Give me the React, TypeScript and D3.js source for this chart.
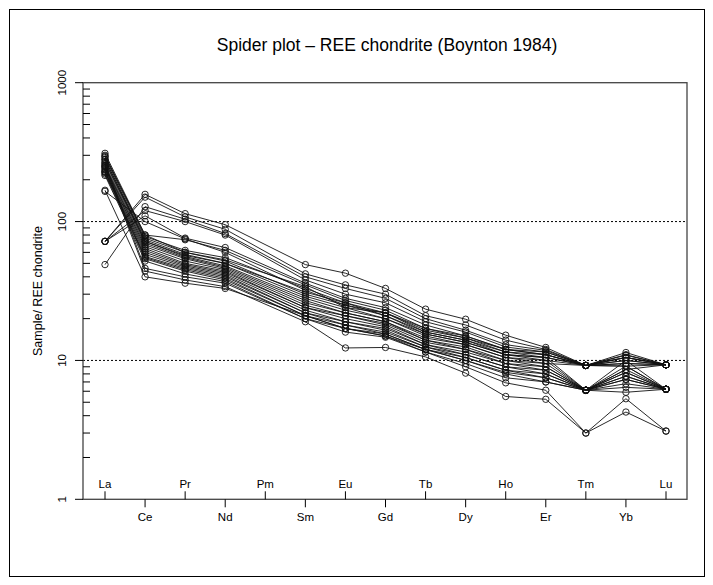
import React from "react";
import * as d3 from "d3";

const elements = ["La", "Ce", "Pr", "Nd", "Pm", "Sm", "Eu", "Gd", "Tb", "Dy", "Ho", "Er", "Tm", "Yb", "Lu"];
const yTicks = [1, 10, 100, 1000];
const gridValues = [10, 100];

// each sample: La, Ce, Pr, Nd, Pm(null), Sm, Eu, Gd, Tb, Dy, Ho, Er, Tm, Yb, Lu
const s1 = [72, 157, 114, 95, null, 49, 42.5, 33, 23.4, 19.8, 15.2, 12.4, 9.2, 11.4, 9.3];
const s2 = [72, 150, 108, 88, null, 42, 35, 30, 21, 18, 14, 12, 9.2, 10.9, 9.3];
const s3 = [49, 128, 104, 82, null, 40, 33, 28, 20, 16.5, 13, 11.8, 9.2, 10.5, 9.3];
const s4 = [72, 120, 100, 80, null, 38, 30, 26, 19, 16, 12.5, 11.5, 9.2, 10, 9.3];
const s5 = [72, 110, 76, 65, null, 36, 28, 24, 18, 15, 12, 11, 9.2, 10, 6.2];
const s6 = [310, 80, 74, 62, null, 35, 27, 23, 17, 15, 12, 11, 9.2, 9.5, 9.3];
const s7 = [300, 78, 62, 55, null, 33, 26, 22, 16.5, 14.5, 11.5, 10.5, 9.2, 9.1, 6.2];
const s8 = [290, 76, 60, 52, null, 30, 25, 21, 16, 14, 11, 10.5, 9.2, 10.5, 9.3];
const s9 = [280, 74, 58, 50, null, 29, 24, 20, 15.5, 13.5, 11, 10, 9.2, 9.1, 9.3];
const s10 = [270, 72, 56, 48, null, 28, 23, 20, 15, 13, 10.5, 10, 6.1, 8.6, 6.2];
const s11 = [265, 70, 55, 47, null, 27, 22, 19, 14.5, 13, 10.5, 9.5, 9.2, 11, 9.3];
const s12 = [255, 68, 54, 46, null, 26, 22, 19, 14, 12.5, 10, 9.5, 6.1, 8.2, 6.2];
const s13 = [250, 66, 52, 45, null, 25, 21, 18.5, 14, 12, 10, 9, 6.1, 9.1, 6.2];
const s14 = [245, 64, 50, 44, null, 24, 21, 18, 13.5, 12, 9.5, 9, 6.1, 8.6, 9.3];
const s15 = [240, 62, 49, 43, null, 24, 20, 17.5, 13, 11.5, 9.5, 8.5, 6.1, 7.7, 6.2];
const s16 = [235, 60, 48, 42, null, 23, 19, 17, 13, 11, 9, 8.5, 6.1, 7.3, 6.2];
const s17 = [230, 58, 47, 41, null, 22, 19, 16.5, 12.5, 11, 9, 8, 6.1, 10, 9.3];
const s18 = [228, 56, 46, 40, null, 22, 18, 16, 12.5, 10.5, 8.5, 8, 6.1, 6.8, 6.2];
const s19 = [225, 55, 45, 39, null, 21, 18, 15.5, 12, 10, 8.2, 7.5, 6.1, 7.7, 6.2];
const s20 = [220, 54, 44, 38, null, 21, 17, 15, 12, 10, 8, 7, 6.1, 6.4, 6.2];
const s21 = [215, 52, 42, 37, null, 20, 17, 15, 11.5, 9.5, 7.5, 7, 6.1, 5.9, 6.2];
const s22 = [260, 46, 40, 36, null, 20, 16, 14.7, 11.5, 9, 6.9, 6.1, 3.0, 5.3, 3.1];
const s23 = [250, 44, 38, 34, null, 19, 12.3, 12.4, 10.6, 8.1, 5.5, 5.25, 3.0, 4.25, 3.1];
const s24 = [168, 40, 36, 33, null, 21, 17, 15.5, 12, 10.5, 8.5, 7.5, 6.1, 8.2, 6.2];
const s25 = [165, 100, 75, 60, null, 32, 25, 22, 16, 14, 11.5, 11, 9.2, 9.5, 9.3];
const s26 = [280, 72, 57, 50, null, 31, 26, 21, 15.5, 13.5, 11, 10.5, 6.1, 7.3, 6.2];
const s27 = [295, 80, 60, 53, null, 34, 24, 22, 17, 14.5, 12, 11.5, 9.2, 10.5, 9.3];

const samples = [s1, s2, s3, s4, s5, s6, s7, s8, s9, s10, s11, s12, s13, s14, s15, s16, s17, s18, s19, s20, s21, s22, s23, s24, s25, s26, s27];

const FONT = "'Liberation Sans', Arial, sans-serif";

export default function App() {
  const left = 83, right = 687, top = 82.7, bottom = 499.3;
  const x = d3.scaleLinear().domain([0, 14]).range([105, 666]);
  const y = d3.scaleLog().domain([1, 1000]).range([bottom, top]);

  const line = d3
    .line<[number, number]>()
    .x((d) => x(d[0]))
    .y((d) => y(d[1]));

  const minorTicks: number[] = [];
  for (const dec of [1, 10, 100]) for (let k = 2; k <= 9; k++) minorTicks.push(dec * k);

  return (
    <svg
      width={713}
      height={585}
      style={{ position: "absolute", left: 0, top: 0, background: "#fff" }}
      fontFamily={FONT}
    >
      <rect x={0} y={0} width={713} height={585} fill="#fff" />
      <rect x={9.5} y={9.5} width={695} height={567} fill="none" stroke="#000" strokeWidth={1} />
      <text x={(left + right) / 2 + 2} y={51} textAnchor="middle" fontSize={17.5} fill="#000">
        Spider plot – REE chondrite (Boynton 1984)
      </text>
      <text
        transform={`translate(42,${(top + bottom) / 2}) rotate(-90)`}
        textAnchor="middle"
        fontSize={12.5}
        fill="#000"
      >
        Sample/ REE chondrite
      </text>

      {gridValues.map((v) => (
        <line key={v} x1={left} x2={right} y1={y(v)} y2={y(v)} stroke="#000" strokeDasharray="2,2" strokeWidth={1} />
      ))}

      <rect x={left} y={top} width={right - left} height={bottom - top} fill="none" stroke="#444" strokeWidth={1.3} />

      {yTicks.map((v) => (
        <g key={v}>
          <line x1={left - 8} x2={left} y1={y(v)} y2={y(v)} stroke="#000" />
          <text
            transform={`translate(${left - 17},${y(v)}) rotate(-90)`}
            textAnchor="middle"
            fontSize={11.5}
            fill="#000"
          >
            {v}
          </text>
        </g>
      ))}
      {minorTicks.map((v) => (
        <line key={"m" + v} x1={left} x2={left + 7} y1={y(v)} y2={y(v)} stroke="#000" />
      ))}

      {elements.map((el, i) => {
        const up = i % 2 === 0;
        return (
          <g key={el}>
            <line x1={x(i)} x2={x(i)} y1={bottom} y2={up ? bottom - 8 : bottom + 8} stroke="#000" />
            <text x={x(i)} y={up ? bottom - 11 : bottom + 22} textAnchor="middle" fontSize={11.5} fill="#000">
              {el}
            </text>
          </g>
        );
      })}

      {samples.map((s, si) => {
        const pts = s
          .map((v, i) => [i, v] as [number, number | null])
          .filter((d) => d[1] != null) as [number, number][];
        return (
          <g key={si}>
            <path d={line(pts) || ""} fill="none" stroke="#111" strokeWidth={0.9} />
            {pts.map((p, pi) => (
              <circle key={pi} cx={x(p[0])} cy={y(p[1])} r={3.2} fill="none" stroke="#111" strokeWidth={0.9} />
            ))}
          </g>
        );
      })}
    </svg>
  );
}
